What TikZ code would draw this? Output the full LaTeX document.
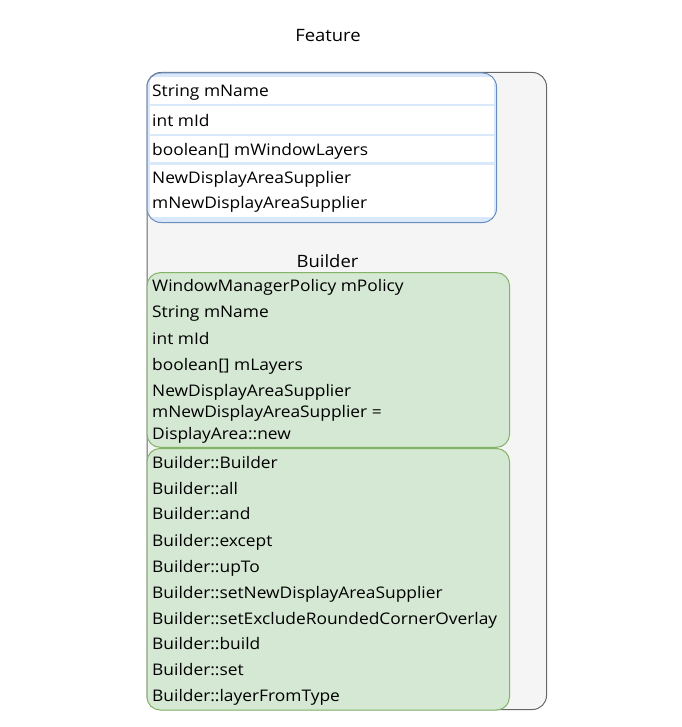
\documentclass[tikz,border=0pt]{standalone}
\usepackage{fontspec}
\setmainfont[FakeStretch=1.085]{Open Sans}
\definecolor{grayfill}{HTML}{F5F5F5}
\definecolor{graydraw}{HTML}{666666}
\definecolor{bluefill}{HTML}{DAE8FC}
\definecolor{bluedraw}{HTML}{6C8EBF}
\definecolor{greenfill}{HTML}{D5E8D4}
\definecolor{greendraw}{HTML}{82B366}
\begin{document}
\begin{tikzpicture}[x=1pt,y=-1pt,
  txt/.style={anchor=base west,inner sep=0pt,font=\fontsize{16}{18}\selectfont},
  ttl/.style={anchor=base,inner sep=0pt,font=\fontsize{17}{20}\selectfont},
  rowbox/.style={fill=white,draw=none}]
\useasboundingbox (0,0) rectangle (681,727);
% outer container
\draw[fill=grayfill,draw=graydraw,line width=1pt,rounded corners=14pt] (147,72.5) rectangle (546.5,709.5);
\node[ttl] (feature) at (328,42) {Feature};
% blue box
\path[fill=bluefill,rounded corners=14pt] (147,73) rectangle (496.5,222.5);
\begin{scope}
\clip[rounded corners=14pt] (147,73) rectangle (496.5,222.5);
\fill[rowbox] (150,77) rectangle (494,104.5);
\fill[rowbox] (150,106.5) rectangle (494,134);
\fill[rowbox] (150,136) rectangle (494,162.5);
\fill[rowbox] (150,165) rectangle (494,217.5);
\end{scope}
\draw[draw=bluedraw,line width=1pt,rounded corners=14pt] (147,73) rectangle (496.5,222.5);
\node[txt] (f1) at (152,97) {String mName};
\node[txt] (f2) at (152,126.5) {int mId};
\node[txt] (f3) at (152,155.5) {boolean[] mWindowLayers};
\node[txt] (f4) at (152,184) {NewDisplayAreaSupplier};
\node[txt] (f5) at (152,209) {mNewDisplayAreaSupplier};
% Builder title
\node[ttl] (builder) at (327.5,267) {Builder};
% green box 1
\draw[fill=greenfill,draw=greendraw,line width=1pt,rounded corners=13pt] (147,272.7) rectangle (509.5,447.3);
\node[txt] (b1) at (152,291.7) {WindowManagerPolicy mPolicy};
\node[txt] (b2) at (152,317.7) {String mName};
\node[txt] (b3) at (152,344.3) {int mId};
\node[txt] (b4) at (152,370) {boolean[] mLayers};
\node[txt] (b5) at (152,396) {NewDisplayAreaSupplier};
\node[txt] (b6) at (152,417.7) {mNewDisplayAreaSupplier =};
\node[txt] (b7) at (152,439.3) {DisplayArea::new};
% green box 2
\draw[fill=greenfill,draw=greendraw,line width=1pt,rounded corners=13pt] (147,448.5) rectangle (509.5,710);
\node[txt] (m1) at (152,468.3) {Builder::Builder};
\node[txt] (m2) at (152,494.3) {Builder::all};
\node[txt] (m3) at (152,519.5) {Builder::and};
\node[txt] (m4) at (152,546) {Builder::except};
\node[txt] (m5) at (152,572) {Builder::upTo};
\node[txt] (m6) at (152,598.3) {Builder::setNewDisplayAreaSupplier};
\node[txt] (m7) at (152,624.3) {Builder::setExcludeRoundedCornerOverlay};
\node[txt] (m8) at (152,649.5) {Builder::build};
\node[txt] (m9) at (152,675.5) {Builder::set};
\node[txt] (m10) at (152,701) {Builder::layerFromType};
\end{tikzpicture}
\end{document}
